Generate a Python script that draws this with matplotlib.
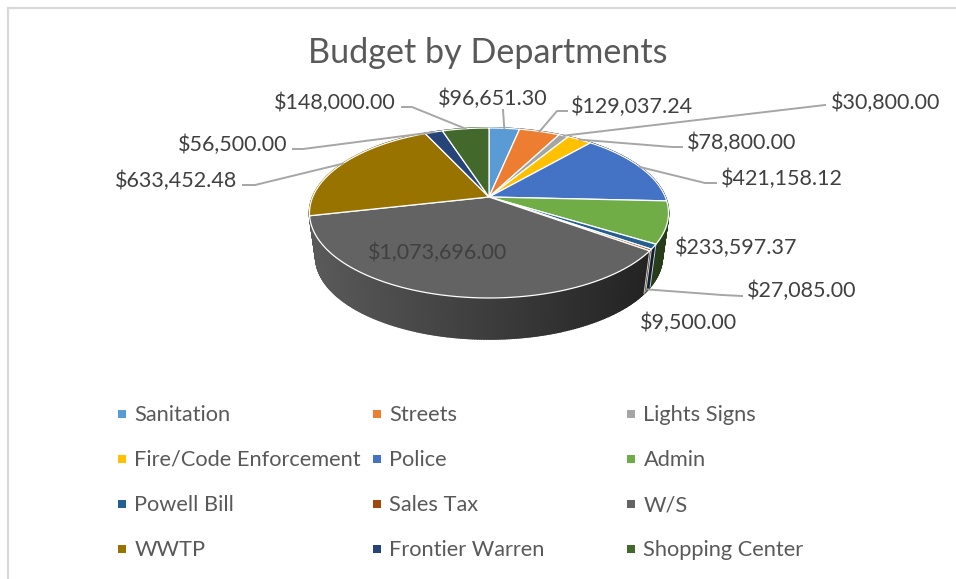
import numpy as np
import matplotlib
matplotlib.use('Agg')
import matplotlib.pyplot as plt

departments = ['Sanitation', 'Streets', 'Lights Signs', 'Fire/Code Enforcement', 'Police', 'Admin',
               'Powell Bill', 'Sales Tax', 'W/S', 'WWTP', 'Frontier Warren', 'Shopping Center']
budget = [96651.30, 129037.24, 30800.00, 78800.00, 421158.12, 233597.37,
          27085.00, 9500.00, 1073696.00, 633452.48, 56500.00, 148000.00]
colors = ['#5b9bd5', '#ed7d31', '#a5a5a5', '#ffc000', '#4472c4', '#70ad47',
          '#255e91', '#9e480e', '#636363', '#997300', '#264478', '#43682b']

# label anchor in pixels, ha, leader elbow points (None = no leader)
label_pos = [(493, 99, 'center', [(503, 110)]),
             (571, 107, 'left', [(557, 111), (567, 111)]),
             (831, 103, 'left', [(825, 105)]),
             (687, 143, 'left', [(672, 147), (682, 147)]),
             (721, 179, 'left', [(705, 183), (716, 183)]),
             (675, 248, 'left', None),
             (747, 291, 'left', [(722, 295), (742, 296)]),
             (640, 323, 'left', None),
             (438, 253, 'center', None),
             (237, 181, 'right', [(255, 185), (243, 185)]),
             (287, 145, 'right', [(303, 149), (293, 149)]),
             (396, 103, 'right', [(412, 107), (402, 107)])]

# pie geometry in pixels
cx, cy = 489, 197
a, b, k = 176.3, 82.0, 0.188
depth, shrink = 44.5, 0.965


def top_rim(theta, r=1.0):
    X, Y = r * np.sin(theta), r * np.cos(theta)
    d = 1 + k * Y
    return cx + a * X / d, cy - b * Y / d


def bottom_rim(theta):
    X, Y = np.sin(theta), np.cos(theta)
    d = 1 + k * Y
    return cx + shrink * a * X / d, cy + depth - shrink * b * Y / d


fig = plt.figure(figsize=(9.56, 5.79), dpi=100)
ax = fig.add_axes([0, 0, 1, 1])
ax.set_xlim(0, 956)
ax.set_ylim(579, 0)
ax.axis('off')
plt.rcParams['font.family'] = ['Lato', 'DejaVu Sans']

# chart frame, only the top and left edges show
ax.plot([8.5, 8.5], [579, 7.5], color='#d9d9d9', lw=1.6)
ax.plot([8.5, 956], [7.5, 7.5], color='#d9d9d9', lw=1.6)

edges = np.concatenate([[0], np.cumsum(budget)]) / np.sum(budget) * 2 * np.pi

# side wall, strips shaded from left to right, back first
strips = []
for i, col in enumerate(colors):
    n = max(3, int((edges[i + 1] - edges[i]) * 90))
    th = np.linspace(edges[i], edges[i + 1], n + 1)
    for t0, t1 in zip(th[:-1], th[1:]):
        strips.append((np.cos((t0 + t1) / 2), t0, t1, col))
strips.sort(key=lambda s: -s[0])
for yy, t0, t1, col in strips:
    x0, y0 = top_rim(t0)
    x1, y1 = top_rim(t1)
    x2, y2 = bottom_rim(t1)
    x3, y3 = bottom_rim(t0)
    shade = 0.9 - 0.55 * np.clip(((x0 + x1) / 2 - 315) / 335, 0, 1)
    c = np.array(matplotlib.colors.to_rgb(col)) * shade
    ax.fill([x0, x1, x2, x3], [y0, y1, y2, y3], color=c, lw=1.2, zorder=2)

# white seams on the visible side
for e in edges[:-1]:
    if np.cos(e) < -0.2 and np.sin(e) > 0:
        x0, y0 = top_rim(e)
        x1, y1 = bottom_rim(e)
        ax.plot([x0, x1], [y0, y1], color='white', lw=0.7, zorder=3, alpha=0.8)

# top face
for i, col in enumerate(colors):
    th = np.linspace(edges[i], edges[i + 1], 80)
    xs, ys = top_rim(th)
    ax.fill(np.r_[cx, xs], np.r_[cy, ys], facecolor=col, edgecolor='white', lw=0.9, zorder=4)

# data labels and leaders
for i, (lx, ly, ha, leader) in enumerate(label_pos):
    if leader is not None:
        mid = (edges[i] + edges[i + 1]) / 2
        sx, sy = top_rim(mid)
        if i == 6:
            sx, sy = bottom_rim(mid)
        pts = [(sx, sy)] + leader
        ax.plot([p[0] for p in pts], [p[1] for p in pts], color='#a6a6a6', lw=1.4, zorder=5,
                solid_joinstyle='round')
    txt = '${:,.2f}'.format(budget[i])
    ax.text(lx, ly, txt, ha=ha, va='center', fontsize=15.5, color='#404040', zorder=6)

ax.text(488, 53, 'Budget by Departments', ha='center', va='center', fontsize=24.6, color='#595959')

# legend
col_x = [122, 377, 631]
row_y = [415, 460, 505, 550]
for i, name in enumerate(departments):
    x = col_x[i % 3]
    y = row_y[i // 3]
    ax.scatter([x], [y - 1], marker='s', s=38, color=colors[i], linewidths=0)
    ax.text(x + 12.5, y, name, ha='left', va='center', fontsize=15.7, color='#595959')

fig.savefig('out.png', dpi=100)
